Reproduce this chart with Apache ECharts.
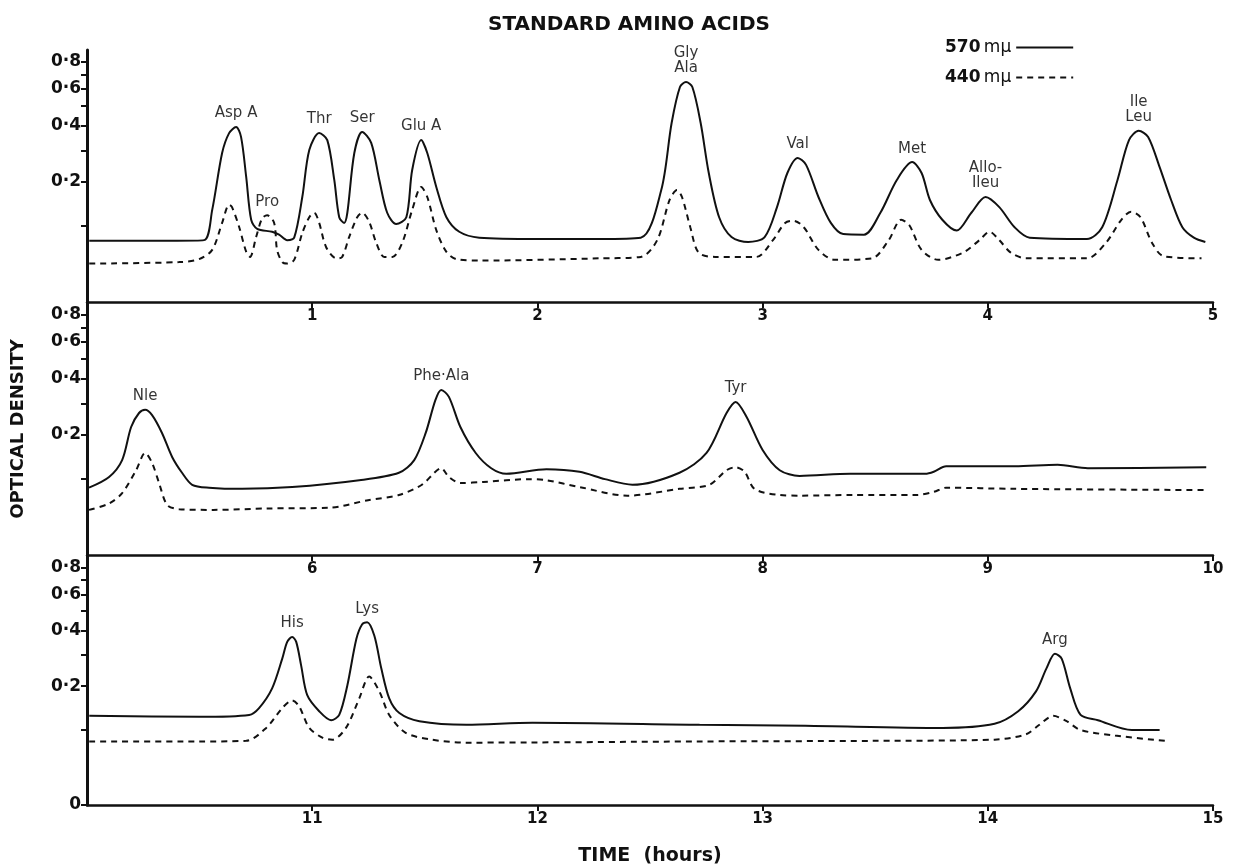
<!DOCTYPE html>
<html lang="en">
<head>
<meta charset="UTF-8">
<title>Standard amino acids</title>
<script src="https://cdn.jsdelivr.net/npm/echarts@6/dist/echarts.min.js"></script>
<style>html,body{margin:0;background:#fff}</style>
</head>
<body>
<div id="dom" style="width:1238px;height:867px"></div>
<script>
// [time (hours), optical density]
var solid1 = [[0.01,0.075],[0.40,0.075],[0.52,0.076],[0.556,0.132],[0.60,0.290],[0.631,0.368],[0.662,0.395],[0.684,0.352],[0.707,0.213],[0.729,0.112],[0.756,0.095],[0.822,0.090],[0.853,0.085],[0.889,0.076],[0.92,0.080],[0.956,0.161],[0.987,0.301],[1.031,0.368],[1.067,0.339],[1.098,0.205],[1.12,0.117],[1.142,0.106],[1.156,0.126],[1.187,0.290],[1.222,0.373],[1.262,0.328],[1.298,0.205],[1.333,0.126],[1.373,0.104],[1.418,0.117],[1.444,0.234],[1.484,0.339],[1.511,0.290],[1.551,0.186],[1.596,0.117],[1.653,0.090],[1.742,0.080],[2.0,0.078],[2.275,0.078],[2.459,0.080],[2.55,0.178],[2.596,0.413],[2.633,0.613],[2.66,0.646],[2.688,0.613],[2.725,0.413],[2.761,0.225],[2.807,0.117],[2.862,0.081],[2.936,0.073],[3.009,0.081],[3.064,0.138],[3.11,0.225],[3.156,0.273],[3.193,0.250],[3.248,0.161],[3.303,0.106],[3.358,0.086],[3.45,0.085],[3.523,0.126],[3.596,0.205],[3.664,0.259],[3.706,0.225],[3.743,0.154],[3.798,0.112],[3.862,0.092],[3.927,0.126],[3.99,0.161],[4.051,0.138],[4.119,0.098],[4.186,0.080],[4.44,0.078],[4.508,0.098],[4.576,0.205],[4.627,0.339],[4.67,0.378],[4.712,0.352],[4.763,0.243],[4.814,0.154],[4.864,0.098],[4.915,0.080],[4.966,0.073]];
var dashed1 = [[0.01,0.042],[0.409,0.044],[0.498,0.048],[0.556,0.061],[0.60,0.106],[0.631,0.143],[0.644,0.138],[0.676,0.098],[0.707,0.058],[0.724,0.051],[0.751,0.081],[0.778,0.115],[0.80,0.121],[0.831,0.106],[0.844,0.061],[0.867,0.044],[0.889,0.042],[0.92,0.047],[0.956,0.088],[0.987,0.117],[1.009,0.126],[1.031,0.106],[1.062,0.065],[1.107,0.049],[1.133,0.051],[1.164,0.081],[1.20,0.117],[1.222,0.126],[1.253,0.108],[1.284,0.072],[1.32,0.051],[1.356,0.051],[1.40,0.072],[1.444,0.132],[1.484,0.186],[1.511,0.161],[1.551,0.093],[1.596,0.058],[1.64,0.048],[1.742,0.046],[2.275,0.049],[2.459,0.051],[2.532,0.076],[2.587,0.154],[2.62,0.178],[2.642,0.161],[2.679,0.098],[2.716,0.057],[2.789,0.051],[2.972,0.051],[3.046,0.076],[3.10,0.106],[3.138,0.110],[3.183,0.098],[3.248,0.061],[3.321,0.047],[3.486,0.049],[3.56,0.076],[3.615,0.112],[3.651,0.102],[3.706,0.061],[3.78,0.047],[3.89,0.057],[3.963,0.076],[4.008,0.090],[4.051,0.076],[4.102,0.057],[4.169,0.049],[4.44,0.049],[4.525,0.072],[4.593,0.112],[4.636,0.128],[4.678,0.117],[4.729,0.072],[4.78,0.052],[4.949,0.049]];

var solid2 = [[5.009,0.085],[5.098,0.104],[5.156,0.138],[5.196,0.222],[5.231,0.266],[5.258,0.277],[5.289,0.259],[5.333,0.205],[5.378,0.145],[5.422,0.112],[5.467,0.090],[5.542,0.085],[5.689,0.083],[5.911,0.086],[6.209,0.098],[6.385,0.112],[6.453,0.138],[6.504,0.205],[6.547,0.312],[6.573,0.352],[6.607,0.324],[6.658,0.222],[6.726,0.154],[6.795,0.121],[6.862,0.110],[7.04,0.119],[7.187,0.114],[7.30,0.100],[7.422,0.090],[7.631,0.112],[7.751,0.154],[7.84,0.266],[7.88,0.305],[7.929,0.253],[8.0,0.161],[8.076,0.117],[8.164,0.106],[8.389,0.110],[8.722,0.110],[8.76,0.114],[8.815,0.125],[9.12,0.125],[9.31,0.128],[9.444,0.121],[9.97,0.123]];
var dashed2 = [[5.009,0.051],[5.098,0.060],[5.156,0.076],[5.218,0.117],[5.258,0.154],[5.289,0.132],[5.32,0.093],[5.356,0.058],[5.409,0.052],[5.56,0.051],[5.80,0.053],[6.077,0.054],[6.248,0.065],[6.385,0.073],[6.487,0.090],[6.547,0.114],[6.573,0.121],[6.607,0.104],[6.658,0.093],[6.76,0.095],[6.964,0.100],[7.04,0.098],[7.187,0.086],[7.40,0.072],[7.631,0.083],[7.764,0.090],[7.84,0.117],[7.88,0.123],[7.92,0.114],[7.964,0.083],[8.076,0.073],[8.164,0.072],[8.40,0.073],[8.685,0.073],[8.76,0.078],[8.815,0.085],[9.12,0.083],[9.97,0.081]];

var solid3 = [[10.01,0.128],[10.498,0.126],[10.72,0.130],[10.764,0.145],[10.822,0.194],[10.867,0.287],[10.889,0.352],[10.911,0.373],[10.929,0.352],[10.951,0.263],[10.978,0.176],[11.031,0.138],[11.084,0.119],[11.12,0.130],[11.156,0.202],[11.196,0.364],[11.222,0.432],[11.244,0.442],[11.276,0.378],[11.307,0.253],[11.342,0.168],[11.387,0.134],[11.476,0.117],[11.684,0.110],[11.978,0.114],[12.72,0.110],[13.19,0.108],[13.80,0.104],[14.03,0.112],[14.135,0.138],[14.214,0.186],[14.26,0.253],[14.298,0.305],[14.328,0.287],[14.366,0.194],[14.412,0.130],[14.489,0.119],[14.64,0.100],[14.763,0.100]];
var dashed3 = [[10.01,0.080],[10.498,0.080],[10.707,0.081],[10.796,0.104],[10.867,0.145],[10.911,0.163],[10.942,0.149],[10.987,0.104],[11.047,0.086],[11.09,0.083],[11.15,0.104],[11.209,0.168],[11.253,0.228],[11.298,0.186],[11.342,0.130],[11.415,0.095],[11.53,0.083],[11.684,0.078],[12.72,0.080],[13.496,0.081],[14.03,0.083],[14.168,0.092],[14.229,0.110],[14.29,0.128],[14.35,0.117],[14.412,0.100],[14.565,0.090],[14.786,0.081]];

// peak names, [name, time, optical density of the peak top]
var peaks1 = [['Asp A',0.662,0.395],['Pro',0.80,0.121],['Thr',1.031,0.368],['Ser',1.222,0.373],['Glu A',1.484,0.339],['Gly\nAla',2.66,0.646],['Val',3.156,0.273],['Met',3.664,0.259],['Allo-\nIleu',3.99,0.161],['Ile\nLeu',4.67,0.378]];
var peaks2 = [['Nle',5.258,0.277],['Phe\u00b7Ala',6.573,0.352],['Tyr',7.88,0.305]];
var peaks3 = [['His',10.911,0.373],['Lys',11.244,0.442],['Arg',14.298,0.305]];

var odTicks = [0.1, 0.2, 0.3, 0.4, 0.5, 0.6, 0.7, 0.8];
var odLabels = [0.2, 0.4, 0.6, 0.8];
var panelStart = [0, 5, 10];

// the density scale of the recorder: position grows with log(1 + 10 * OD)
function odScale(od) { return Math.log10(1 + 10 * od); }
function odText(v) {
    var od = Math.round((Math.pow(10, v) - 1) * 10) / 100;
    if (od === 0) return '0';
    return od.toFixed(1).replace('.', '\u00b7');
}
function toXY(list) { return list.map(function (p) { return [p[0], odScale(p[1])]; }); }

var ink = '#111';
var font = 'DejaVu Sans';
var panels = [
    {solid: solid1, dashed: dashed1, peaks: peaks1},
    {solid: solid2, dashed: dashed2, peaks: peaks2},
    {solid: solid3, dashed: dashed3, peaks: peaks3}
];

var grids = [], xAxes = [], yAxes = [], series = [];
panels.forEach(function (p, i) {
    grids.push({left: 87, right: 25, top: 50 + i * 253, height: 252});
    var last = i === 2;
    xAxes.push({
        gridIndex: i, type: 'value', min: panelStart[i], max: panelStart[i] + 5, interval: 1,
        name: last ? 'TIME  (hours)' : '', nameLocation: 'middle', nameGap: 42,
        nameTextStyle: {color: ink, fontFamily: font, fontWeight: 'bold', fontSize: 19},
        axisLine: {onZero: false, lineStyle: {color: ink, width: 2.5}},
        axisTick: {length: 6, lineStyle: {color: ink, width: 2}},
        axisLabel: {showMinLabel: false, color: ink, fontFamily: font, fontWeight: 'bold', fontSize: 15, margin: 7},
        splitLine: {show: false}
    });
    var ticks = odTicks.map(odScale), labels = odLabels.map(odScale);
    if (last) { ticks.unshift(0); labels.unshift(0); }
    yAxes.push({
        gridIndex: i, type: 'value', min: 0, max: 1,
        name: i === 1 ? 'OPTICAL DENSITY' : '', nameLocation: 'middle', nameGap: 60, nameRotate: 90,
        nameTextStyle: {color: ink, fontFamily: font, fontWeight: 'bold', fontSize: 18},
        axisLine: {show: true, lineStyle: {color: ink, width: 3}},
        axisTick: {show: true, length: 6, customValues: ticks, lineStyle: {color: ink, width: 2}},
        axisLabel: {customValues: labels, formatter: odText, color: ink, fontFamily: font, fontWeight: 'bold', fontSize: 17, margin: 6},
        splitLine: {show: false}
    });
    series.push({
        name: '570 m\u00b5', type: 'line', xAxisIndex: i, yAxisIndex: i, data: toXY(p.solid),
        symbol: 'none', smooth: 0.3, lineStyle: {color: ink, width: 2}, itemStyle: {color: ink}
    });
    series.push({
        name: '440 m\u00b5', type: 'line', xAxisIndex: i, yAxisIndex: i, data: toXY(p.dashed),
        symbol: 'none', smooth: 0.3, lineStyle: {color: ink, width: 2, type: [6, 5]}, itemStyle: {color: ink}
    });
    series.push({
        type: 'scatter', xAxisIndex: i, yAxisIndex: i, symbolSize: 2,
        itemStyle: {color: 'rgba(0,0,0,0)'},
        data: p.peaks.map(function (k) { return {name: k[0], value: [k[1], odScale(k[2])]}; }),
        label: {show: true, position: 'top', distance: 5, formatter: '{b}', color: '#000', fontFamily: font, fontSize: 15, lineHeight: 15}
    });
});

var myCharts = echarts.init(document.getElementById('dom'));
myCharts.setOption({
    animation: false,
    backgroundColor: '#fff',
    title: {
        text: 'STANDARD AMINO ACIDS', left: 483, top: 10,
        textStyle: {color: ink, fontFamily: font, fontWeight: 'bold', fontSize: 20}
    },
    legend: {
        data: ['570 m\u00b5', '440 m\u00b5'], orient: 'vertical', left: 940, top: 34,
        align: 'right', itemWidth: 57, itemHeight: 14, itemGap: 13,
        itemStyle: {color: 'rgba(0,0,0,0)', borderColor: 'rgba(0,0,0,0)', borderWidth: 0},
        formatter: function (name) {
            var parts = name.split(' ');
            return '{b|' + parts[0] + '} {n|' + parts[1] + '}';
        },
        textStyle: {rich: {
            b: {color: ink, fontFamily: font, fontWeight: 'bold', fontSize: 17},
            n: {color: ink, fontFamily: font, fontSize: 17}
        }}
    },
    grid: grids,
    xAxis: xAxes,
    yAxis: yAxes,
    series: series
});
</script>
</body>
</html>
